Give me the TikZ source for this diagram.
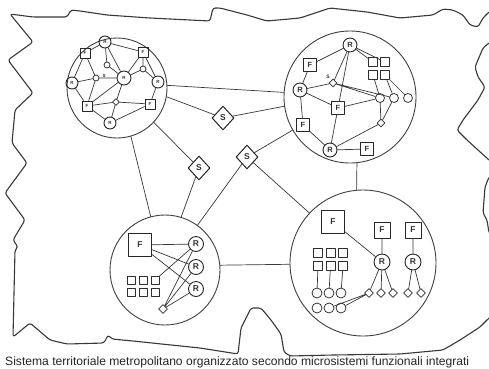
\documentclass[tikz,border=0pt]{standalone}
\usepackage{fontspec}
\setmainfont{Liberation Sans}
\usetikzlibrary{shapes.geometric}
\begin{document}
\begin{tikzpicture}[x=1pt,y=-1pt,line cap=round,line join=round,
  ln/.style={draw=black!78,line width=0.7pt},
  outl/.style={draw=black!78,line width=1.1pt,rounded corners=2.5pt},
  big/.style={circle,draw=black!75,line width=0.9pt,inner sep=0pt,minimum size=#1},
  rn/.style={circle,draw=black!85,line width=0.9pt,inner sep=0pt,minimum size=#1},
  fn/.style={rectangle,draw=black!85,line width=0.9pt,inner sep=0pt,minimum size=#1},
  sq/.style={rectangle,draw=black!82,line width=0.75pt,inner sep=0pt,minimum size=#1},
  oc/.style={circle,draw=black!82,line width=0.75pt,inner sep=0pt,minimum size=#1},
  dm/.style={diamond,aspect=1,draw=black!82,line width=0.75pt,inner sep=0pt,minimum size=#1},
  sd/.style={diamond,aspect=1,draw=black!85,line width=1pt,inner sep=0pt,minimum width=22,minimum height=24,font=\fontsize{8.5}{9}\selectfont\bfseries,text=black!80},
  fa/.style={font=\fontsize{4.5}{5}\selectfont\bfseries,text=black!80},
  fb/.style={font=\fontsize{7.5}{8}\selectfont\bfseries,text=black!80},
  fc/.style={font=\fontsize{8.5}{9}\selectfont\bfseries,text=black!80}]
\useasboundingbox (0,0) rectangle (489,368);
\fill[white] (0,0) rectangle (489,368);
% outline
\begin{scope}
\clip (0,0) rectangle (489,368);
\draw[outl] (10,14) -- (33,17) -- (67,17) -- (71,10) -- (80,11) -- (107,15) -- (150,18) -- (210,21) -- (213,8) -- (220,8) -- (247,15) -- (267,21) -- (300,18) -- (330,8) -- (367,12) -- (400,18) -- (433,15) -- (443,9) -- (453,10) -- (463,15) -- (470,25) -- (478,27) -- (483,18) -- (489,12) -- (497,8) -- (497,38) -- (489,43) -- (483,48) -- (475,67) -- (478,77) -- (485,87) -- (478,100) -- (463,120) -- (457,130) -- (467,140) -- (489,160) -- (497,166) -- (497,172) -- (489,177) -- (485,187) -- (483,213) -- (487,220) -- (489,233) -- (497,240) -- (497,312) -- (489,318) -- (480,327) -- (460,340) -- (443,350) -- (400,354) -- (333,355) -- (290,356) -- (284,352) -- (281,334) -- (271,320) -- (261,308) -- (251,308) -- (241,328) -- (238,354) -- (200,348) -- (133,341) -- (112,339) -- (108,335) -- (104,343) -- (67,344) -- (50,340) -- (30,323) -- (13,337) -- (15,250) -- (18,247) -- (13,240) -- (25,220) -- (5,193) -- (27,163) -- (12,143) -- (15,110) -- (33,93) -- (8,60) -- (33,42) -- cycle;
\end{scope}
% big circles
\node[big=100] (c1) at (117,88) {};
\node[big=132] (c2) at (350,97) {};
\node[big=110] (c3) at (165,270) {};
\node[big=146] (c4) at (363,263) {};
% S diamonds
\node[sd] (s1) at (223,118) {S};
\node[sd] (s2) at (199,168) {S};
\node[sd] (s3) at (247,157) {S};
% connectors between circles
\draw[ln] (c1.3) -- (c2.176);
\draw[ln] (c1.-10) -- (s1);
\draw[ln] (s1) -- (c2.188);
\draw[ln] (c1.-43) -- (s2);
\draw[ln] (s2) -- (c3.73);
\draw[ln] (c1.-74) -- (c3.105);
\draw[ln] (s3) -- (c2.210);
\draw[ln] (s3) -- (c3.54);
\draw[ln] (s3) -- (c4.137);
\draw[ln] (c3.5) -- (c4.181.5);
\draw[ln] (c2.-84) -- (c4.95);
% ---------- circle 1
\node[rn=12,fa] (art) at (105,42) {R};
\node[fn=10,fa] (afl) at (85,53) {F};
\node[fn=10,fa] (afr) at (143,52) {F};
\node[oc=6] (ao1) at (107,65) {};
\node[oc=6] (ao2) at (96,78) {};
\node[fa] (asl) at (104,76) {S};
\node[rn=12,fa] (arl) at (72,83) {R};
\node[rn=14,fa] (arc) at (124,78) {R};
\node[oc=6] (ao3) at (143,69) {};
\node[rn=12,fa] (arr) at (158,82) {R};
\node[fn=10,fa] (afbl) at (87,106) {F};
\node[dm=7] (ad) at (116,102) {};
\node[fn=10,fa] (afbr) at (150,104) {F};
\node[rn=12,fa] (arb) at (110,123) {R};
\draw[ln] (art) -- (afl) (art) -- (afr) (art) -- (ao1) (art) -- (arc)
  (afl) -- (arl) (afl) -- (ao2) (ao1) -- (arc)
  (ao2) -- (arl) (ao2) -- (arc) (ao2) -- (afbl)
  (arc) -- (afr) (arc) -- (ao3) (arc) -- (afbl) (arc) -- (ad)
  (ao3) -- (afr) (ao3) -- (arr) (arr) -- (afr) (arr) -- (afbr)
  (afbl) -- (ad) (ad) -- (afbr) (ad) -- (arb)
  (afbl) -- (arb) (arb) -- (afbr) (arl) -- (afbl);
% ---------- circle 2
\node[rn=14,fb] (brt) at (350,45) {R};
\node[fn=13,fb] (bfl) at (310,65) {F};
\node[sq=9] (bg1) at (373,62) {};
\node[sq=9] (bg2) at (385,62) {};
\node[sq=9] (bg3) at (373,75) {};
\node[sq=9] (bg4) at (385,75) {};
\node[dm=8] (bd) at (333,83) {};
\node[font=\fontsize{5}{5}\selectfont\bfseries,text=black!80] (bsl) at (328,77) {S};
\node[rn=14,fb] (brl) at (300,90) {R};
\node[fn=13,fb] (bfc) at (338,108) {F};
\node[oc=9] (bo1) at (380,98) {};
\node[oc=9] (bo2) at (394,98) {};
\node[oc=9] (bo3) at (408,98) {};
\node[dm=8] (bd2) at (381,123) {};
\node[fn=13,fb] (bfll) at (303,125) {F};
\node[rn=14,fb] (brb) at (330,150) {R};
\node[fn=13,fb] (bfbr) at (367,149) {F};
\draw[ln] (brt) -- (bfl) (brt) -- (bg1) (brt) -- (bg2) (brt) -- (bd) (brt) -- (bfc) (bfc) -- (brb)
  (bfl) -- (brl) (brl) -- (bd) (brl) -- (bfc) (brl) -- (bfll)
  (bd) -- (bo1) (bd) -- (bo2) (bfc) -- (bo1)
  (bg3) -- (bo1) (bg4) -- (bo2) (bg4) -- (bo3)
  (bd2) -- (bo1) (bd2) -- (bo2) (brb) -- (bd2)
  (bfll) -- (brb) (brb) -- (bfbr);
% ---------- circle 3
\node[fn=23,fc] (cf) at (140,245) {F};
\node[rn=15,fc] (cr1) at (196,244) {R};
\node[rn=15,fc] (cr2) at (196,267) {R};
\node[rn=15,fc] (cr3) at (196,289) {R};
\foreach \i/\x/\y in {1/131/280,2/143/280,3/155/280,4/131/292,5/143/292,6/155/292}
  \node[sq=8] (cg\i) at (\x,\y) {};
\node[dm=9] (cd) at (163,309) {};
\draw[ln] (cf) -- (cr1) (cf) -- (cr2) (cf) -- (cr3) (cg3) -- (cr1)
  (cd) -- (cr1) (cd) -- (cr2) (cd) -- (cr3);
% ---------- circle 4
\node[fn=23,fc] (dF) at (333,222) {F};
\node[fn=16,fc] (df1) at (382,230) {F};
\node[fn=16,fc] (df2) at (413,230) {F};
\node[rn=16,fc] (dr1) at (382,262) {R};
\node[rn=16,fc] (dr2) at (413,262) {R};
\foreach \i/\x/\y in {1/318/253,2/330.5/253,3/343/253,4/318/266,5/330.5/266,6/343/266}
  \node[sq=9] (dg\i) at (\x,\y) {};
\foreach \i/\x in {1/317,2/329,3/341} {
  \node[oc=10] (dp\i) at (\x,293) {};
  \node[oc=10] (dq\i) at (\x,308) {};
}
\foreach \i/\x in {1/369,2/381,3/393,4/408,5/421}
  \node[dm=9] (dd\i) at (\x,293) {};
\draw[ln] (dF) -- (dr1) (df1) -- (dr1) (df2) -- (dr2)
  (dg4) -- (dp1) (dg5) -- (dp2) (dg6) -- (dp3)
  (dr1) -- (dd1) (dr1) -- (dd2) (dr1) -- (dd3) (dr2) -- (dd4) (dr2) -- (dd5)
  (dd1) -- (dq2) (dd1) -- (dq3);
% caption
\node[anchor=base west,inner sep=0pt,font=\fontsize{12.1}{14}\selectfont,text=black!85] (cap) at (5,365) {Sistema territoriale metropolitano organizzato secondo microsistemi funzionali integrati};
\end{tikzpicture}
\end{document}
